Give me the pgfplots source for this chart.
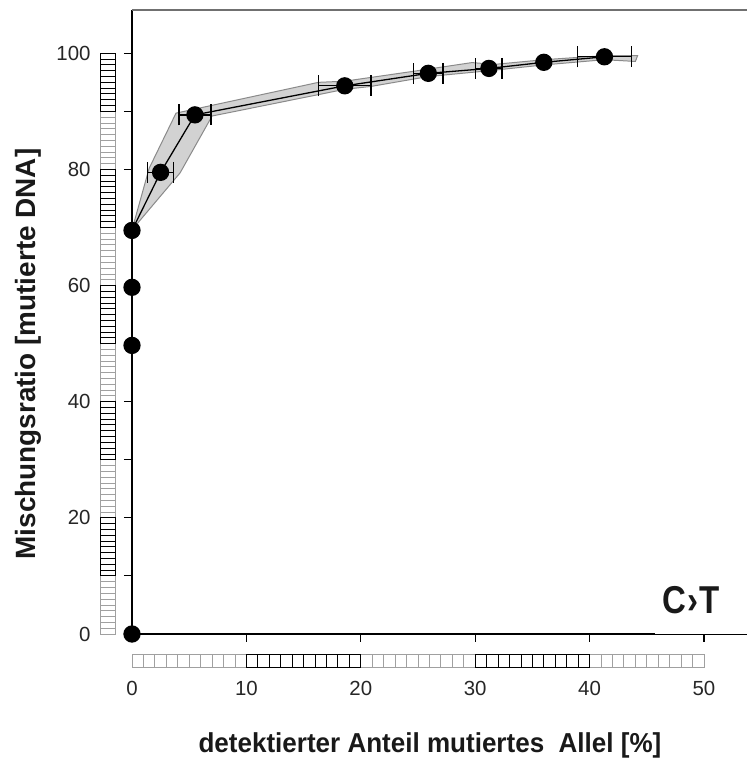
\documentclass[border=0pt]{standalone}
\usepackage{fontspec}
\setmainfont{Liberation Sans}
\newfontfamily\xlabfont{Liberation Sans Bold}[FakeStretch=0.95]
\newfontfamily\ylabfont{Liberation Sans Bold}[FakeStretch=1.0]
\newfontfamily\ctfont{Liberation Sans Bold}[FakeStretch=0.85]
\usepackage{pgfplots}
\pgfplotsset{compat=1.18}
\definecolor{bandfill}{HTML}{D2D2D2}
\definecolor{bandedge}{HTML}{8A8A8A}
\definecolor{rulergray}{HTML}{A0A0A0}
\definecolor{topgray}{HTML}{707070}
\begin{document}
\begin{tikzpicture}
\begin{axis}[
  at={(0,0)}, anchor=south west,
  scale only axis, width=615bp, height=624bp,
  xmin=0, xmax=53.76, ymin=0, ymax=107.46,
  axis x line*=bottom, axis y line*=left,
  x axis line style={black, line width=0.8pt},
  y axis line style={black, line width=1.5pt},
  xtick={0,10,...,50}, ytick={0,20,...,100}, minor ytick={10,30,...,90},
  tick align=outside, major tick length=8bp, minor tick length=8bp,
  tick style={black, line width=1.1pt},
  ticklabel style={font=\fontsize{20.5}{22}\selectfont, text=black!85},
  /pgf/number format/assume math mode=true,
  xticklabel style={anchor=north, yshift=-36bp},
  yticklabel style={anchor=east, xshift=-30bp},
  clip=false,
]
% shaded band
\addplot[fill=bandfill, draw=bandedge, line width=1pt] coordinates {
  (0,69.6) (1.5,80.2) (3.85,89.7) (16.3,95.0) (18.6,95.2) (24.6,96.9)
  (29.7,98.4) (30.4,98.3) (31.2,98.0) (36.0,98.9) (41.3,99.6) (44.2,99.6)
  (44.0,98.6) (41.3,98.9) (36.0,98.0) (31.2,97.0) (25.9,96.0) (20.9,94.3)
  (18.6,93.8) (7.0,89.2) (4.2,79.4) (0,69.6)
} -- cycle;
% x error bars (only points that have them)
\addplot[draw=none, mark=none,
  error bars/.cd, x dir=both, x explicit,
  error bar style={line width=1.3pt, black},
  error mark=|,
  error mark options={mark size=10.5bp, line width=1.4pt, black}]
coordinates {
  (2.5,79.5) +- (1.15,0)
  (5.5,89.4) +- (1.4,0)
  (18.6,94.4) +- (2.3,0)
  (25.9,96.55) +- (1.3,0)
  (31.2,97.4) +- (1.15,0)
  (41.3,99.4) +- (2.35,0)
};
% data line with markers
\addplot[black, line width=1.3pt, mark=*, mark size=8bp,
  mark options={fill=black, solid}]
coordinates {
  (0,0) (0,49.7) (0,59.7) (0,69.5) (2.5,79.5) (5.5,89.4) (18.6,94.4)
  (25.9,96.55) (31.2,97.4) (36.0,98.45) (41.3,99.4)
};
\draw[black, line width=1.6pt] (axis cs:0,0) -- (axis cs:45.7,0);
\draw[topgray, line width=1.5pt] (rel axis cs:0,1) -- (rel axis cs:1,1);
\end{axis}
% rulers (data units: x 11.44bp, y 5.807bp)
\begin{scope}[x=11.44bp, y=5.807bp]
  \foreach \i in {0,...,9,20,21,...,29,40,41,...,49}
    \draw[rulergray, line width=0.9pt] (\i,-3.44) rectangle (\i+1,-5.68);
  \foreach \i in {10,...,19,30,31,...,39}
    \draw[black, line width=0.9pt] (\i,-3.44) rectangle (\i+1,-5.68);
  \foreach \i in {0,...,9,20,21,...,29,40,41,...,49,60,61,...,69,80,81,...,89}
    \draw[rulergray, line width=0.9pt] (-2.80,\i) rectangle (-1.49,\i+1);
  \foreach \i in {10,...,19,30,31,...,39,50,51,...,59,70,71,...,79,90,91,...,99}
    \draw[black, line width=0.9pt] (-2.80,\i) rectangle (-1.49,\i+1);
\end{scope}
\node[rotate=90, font=\ylabfont\fontsize{28}{30}\selectfont, text=black!90] at (-104bp,280bp) {Mischungsratio [mutierte DNA]};
\node[anchor=base, font=\xlabfont\fontsize{27.5}{30}\selectfont, text=black!90] at (298bp,-118bp) {detektierter Anteil mutiertes\ \ Allel [\%]};
\node[font=\ctfont\fontsize{39}{40}\selectfont, text=black!90] at (559bp,34bp) {C\kern1pt›\kern1pt T};
\pgfresetboundingbox
\path (-132bp,-129bp) rectangle (615bp,634bp);
\end{tikzpicture}
\end{document}
